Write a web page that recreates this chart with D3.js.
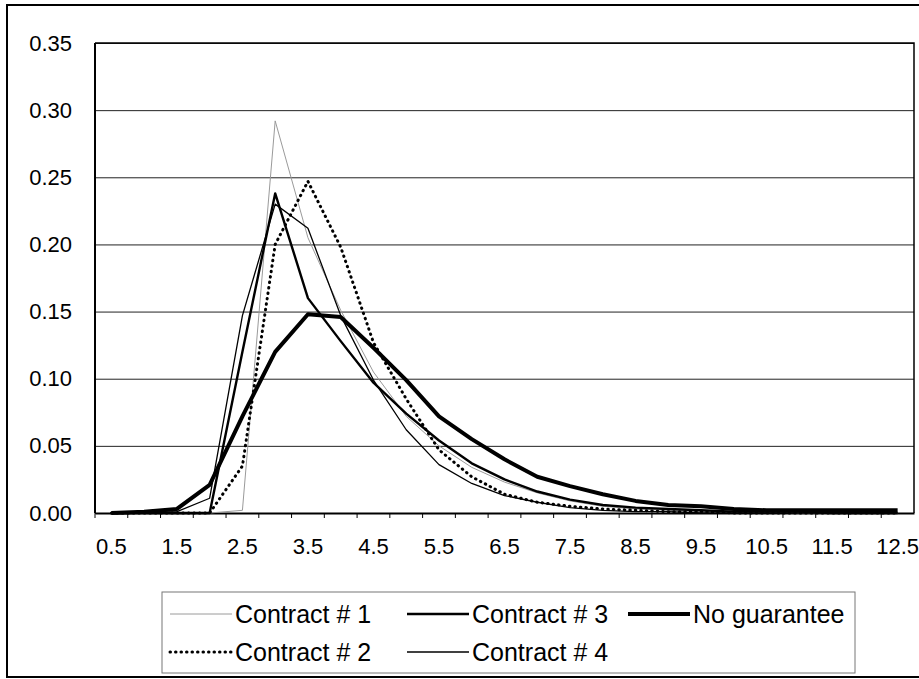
<!DOCTYPE html>
<html>
<head>
<meta charset="utf-8">
<script src="https://cdn.jsdelivr.net/npm/d3@7"></script>
<style>
body { margin: 0; background: #fff; }
text { font-family: "Liberation Sans", Arial, sans-serif; fill: #000; }
</style>
</head>
<body>
<div id="chart"></div>
<script>
var categories = ["0.5","1","1.5","2","2.5","3","3.5","4","4.5","5","5.5","6","6.5","7","7.5","8","8.5","9","9.5","10","10.5","11","11.5","12","12.5"];
var tickLabels = ["0.5","1.5","2.5","3.5","4.5","5.5","6.5","7.5","8.5","9.5","10.5","11.5","12.5"];
var yTicks = [0, 0.05, 0.10, 0.15, 0.20, 0.25, 0.30, 0.35];

var contract1 = [0,0,0,0,0.002,0.292,0.205,0.151,0.105,0.072,0.050,0.034,0.023,0.015,0.009,0.005,0.003,0.002,0.001,0.001,0.001,0,0,0,0];
var contract2 = [0,0,0,0,0.035,0.200,0.247,0.198,0.127,0.085,0.047,0.027,0.014,0.008,0.005,0.003,0.002,0.001,0.001,0,0,0,0,0,0];
var contract3 = [0,0,0,0,0.120,0.238,0.160,0.128,0.097,0.074,0.054,0.037,0.025,0.016,0.010,0.006,0.004,0.003,0.002,0.001,0.001,0.001,0,0,0];
var contract4 = [0,0,0.001,0.011,0.147,0.230,0.212,0.147,0.099,0.062,0.036,0.022,0.013,0.008,0.004,0.002,0.001,0.001,0,0,0,0,0,0,0];
var noGuarantee = [0,0.001,0.003,0.021,0.072,0.120,0.148,0.146,0.123,0.099,0.072,0.055,0.040,0.027,0.020,0.014,0.009,0.006,0.005,0.003,0.002,0.002,0.002,0.002,0.002];

var series = [
    {name: "Contract # 1", values: contract1, color: "#9a9a9a", width: 1, dash: null},
    {name: "Contract # 2", values: contract2, color: "#000", width: 3, dash: "0.5,5"},
    {name: "Contract # 3", values: contract3, color: "#000", width: 2.4, dash: null},
    {name: "Contract # 4", values: contract4, color: "#000", width: 1.3, dash: null},
    {name: "No guarantee", values: noGuarantee, color: "#000", width: 4, dash: null}
];

var width = 919, height = 679;
var plotLeft = 95, plotRight = 914, plotTop = 43, plotBottom = 513;

var svg = d3.select("#chart")
    .append("svg")
    .attr("width", width)
    .attr("height", height);

// outer frame
svg.append("rect")
    .attr("x", 7).attr("y", 5)
    .attr("width", 930).attr("height", 672)
    .attr("fill", "none")
    .attr("stroke", "#000")
    .attr("stroke-width", 2);

var x = d3.scaleBand().domain(categories).range([plotLeft, plotRight]);
var y = d3.scaleLinear().domain([0, 0.35]).range([plotBottom, plotTop]);

// gridlines + y labels
var yAxis = svg.append("g")
    .attr("transform", "translate(" + plotLeft + ",0)")
    .call(d3.axisLeft(y).tickValues(yTicks).tickFormat(d3.format(".2f"))
        .tickSize(-(plotRight - plotLeft)).tickPadding(23));
yAxis.select(".domain").remove();
yAxis.selectAll(".tick line").attr("stroke", "#222").attr("stroke-width", 1);
yAxis.selectAll(".tick text").style("font-size", "22px").attr("fill", "#000");

// plot border
svg.append("path")
    .attr("d", "M" + plotLeft + "," + plotTop + "H" + plotRight + "V" + plotBottom)
    .attr("fill", "none").attr("stroke", "#000").attr("stroke-width", 1.5);
svg.append("line")
    .attr("x1", plotLeft).attr("x2", plotLeft).attr("y1", plotTop).attr("y2", plotBottom)
    .attr("stroke", "#000").attr("stroke-width", 2);

// x axis
var xAxis = svg.append("g")
    .attr("transform", "translate(0," + plotBottom + ")")
    .call(d3.axisBottom(x).tickValues(tickLabels).tickSize(0).tickPadding(25));
xAxis.select(".domain").attr("stroke", "#000").attr("stroke-width", 2);
xAxis.selectAll(".tick text").style("font-size", "22px").attr("fill", "#000");

// tick marks between categories
svg.selectAll(".xtick")
    .data(categories)
    .enter()
    .append("line")
    .attr("class", "xtick")
    .attr("x1", function(d) {return x(d);})
    .attr("x2", function(d) {return x(d);})
    .attr("y1", plotBottom)
    .attr("y2", plotBottom + 5)
    .attr("stroke", "#000");

var line = d3.line()
    .x(function(d, i) {return x(categories[i]) + x.bandwidth() / 2;})
    .y(function(d) {return y(d);});

svg.selectAll(".series")
    .data(series)
    .enter()
    .append("path")
    .attr("class", "series")
    .attr("d", function(d) {return line(d.values);})
    .attr("fill", "none")
    .attr("stroke", function(d) {return d.color;})
    .attr("stroke-width", function(d) {return d.width;})
    .attr("stroke-dasharray", function(d) {return d.dash;})
    .attr("stroke-linecap", function(d) {return d.dash ? "round" : "butt";})
    .attr("stroke-linejoin", "round");

// legend
var legendPos = [
    {x: 170, y: 614},
    {x: 170, y: 652},
    {x: 407, y: 614},
    {x: 407, y: 652},
    {x: 628, y: 614}
];

svg.append("rect")
    .attr("x", 162).attr("y", 592)
    .attr("width", 693).attr("height", 81)
    .attr("fill", "none")
    .attr("stroke", "#777")
    .attr("stroke-width", 1);

var items = svg.selectAll(".legend")
    .data(series)
    .enter()
    .append("g")
    .attr("class", "legend")
    .attr("transform", function(d, i) {return "translate(" + legendPos[i].x + "," + legendPos[i].y + ")";});

items.append("line")
    .attr("x1", 0).attr("x2", 62)
    .attr("stroke", function(d) {return d.color;})
    .attr("stroke-width", function(d) {return d.width;})
    .attr("stroke-dasharray", function(d) {return d.dash;})
    .attr("stroke-linecap", function(d) {return d.dash ? "round" : "butt";});

items.append("text")
    .attr("x", 65)
    .attr("dy", "0.35em")
    .style("font-size", "25px")
    .text(function(d) {return d.name;});
</script>
</body>
</html>
